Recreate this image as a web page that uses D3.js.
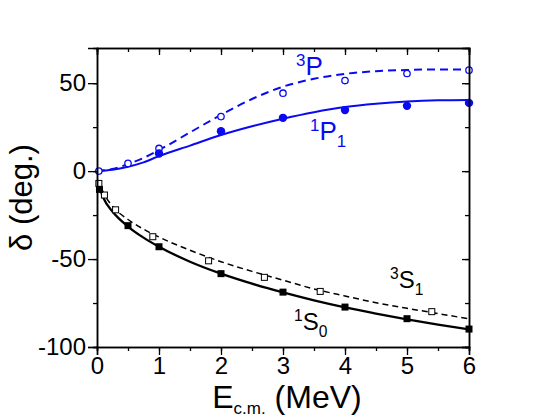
<!DOCTYPE html>
<html>
<head>
<meta charset="UTF-8">
<script src="https://cdn.jsdelivr.net/npm/d3@7"></script>
<style>
  body { margin:0; background:#fff; }
  svg text { font-family: "Liberation Sans", Arial, sans-serif; }
</style>
</head>
<body>
<div id="chart"></div>
<script>
// phase shifts
var pCurveE  = [0, 0.25, 0.5, 0.75, 1, 1.5, 2, 2.5, 3, 3.5, 4, 4.5, 5, 5.5, 6];
var p3Curve  = [0, 1.2, 4, 7.5, 12, 22, 32, 41, 48, 52.5, 55.3, 56.8, 57.5, 57.8, 57.8];
var p1Curve  = [0, 0.8, 2.5, 5, 8.5, 14.5, 20.5, 25.5, 29.8, 33.5, 36.4, 38.3, 39.6, 40.3, 40.5];

var sCurveE  = [0.02, 0.1, 0.25, 0.5, 0.75, 1, 1.5, 2, 2.5, 3, 3.5, 4, 4.5, 5, 5.5, 6];
var s1Curve  = [-7, -15, -23, -31.5, -37.8, -43, -51.5, -58.3, -64, -69, -73.5, -77.5, -81, -84.3, -87.3, -90];
var s3Curve  = [-5, -12, -20, -27.5, -33, -37.5, -45, -51.5, -57, -62, -67, -71, -74.8, -78, -81, -84];

var p3PtsE   = [0.03, 0.5, 1, 2, 3, 4, 5, 6];
var p3Pts    = [0, 4.4, 12.9, 31, 44.3, 51.5, 55.5, 57.4];
var p1PtsE   = [1, 2, 3, 4, 5, 6];
var p1Pts    = [10, 22.7, 30.3, 34.7, 37.1, 38.8];

var s3PtsE   = [0.03, 0.12, 0.3, 0.9, 1.8, 2.7, 3.6, 5.4];
var s3Pts    = [-7, -13.6, -22, -37.3, -51, -60.4, -68.4, -79.9];
var s1PtsE   = [0.04, 0.5, 1, 2, 3, 4, 5, 6];
var s1Pts    = [-10.4, -31, -43, -58.3, -68.8, -77.3, -83.9, -89.8];

var xTicks = [0, 1, 2, 3, 4, 5, 6];
var yTicks = [-100, -50, 0, 50];

var W = 545, H = 417;
var m = {left: 97, right: 76, top: 48, bottom: 70};
var blue = "#0a0af2";

var svg = d3.select("#chart").append("svg").attr("width", W).attr("height", H);

var x = d3.scaleLinear().domain([0, 6]).range([m.left, W - m.right]);
var y = d3.scaleLinear().domain([-100, 70]).range([H - m.bottom, m.top]);

function zip(a, b) { return a.map(function(v, i) { return [v, b[i]]; }); }

var line = d3.line().x(function(d){ return x(d[0]); }).y(function(d){ return y(d[1]); })
  .curve(d3.curveMonotoneX);

var plot = svg.append("g");

// curves
plot.append("path").datum(zip(pCurveE, p3Curve)).attr("d", line)
  .attr("fill", "none").attr("stroke", blue).attr("stroke-width", 2).attr("stroke-dasharray", "8,5");
plot.append("path").datum(zip(pCurveE, p1Curve)).attr("d", line)
  .attr("fill", "none").attr("stroke", blue).attr("stroke-width", 2);
plot.append("path").datum(zip(sCurveE, s3Curve)).attr("d", line)
  .attr("fill", "none").attr("stroke", "#000").attr("stroke-width", 1.5).attr("stroke-dasharray", "6,4");
plot.append("path").datum(zip(sCurveE, s1Curve)).attr("d", line)
  .attr("fill", "none").attr("stroke", "#000").attr("stroke-width", 2.3);

// markers
plot.selectAll(".p3").data(zip(p3PtsE, p3Pts)).enter().append("circle")
  .attr("cx", function(d){ return x(d[0]); }).attr("cy", function(d){ return y(d[1]); })
  .attr("r", 3.2).attr("fill", "#fff").attr("stroke", blue).attr("stroke-width", 1.3);
plot.selectAll(".p1").data(zip(p1PtsE, p1Pts)).enter().append("circle")
  .attr("cx", function(d){ return x(d[0]); }).attr("cy", function(d){ return y(d[1]); })
  .attr("r", 4.2).attr("fill", blue);
plot.selectAll(".s3").data(zip(s3PtsE, s3Pts)).enter().append("rect")
  .attr("x", function(d){ return x(d[0]) - 3; }).attr("y", function(d){ return y(d[1]) - 3; })
  .attr("width", 6).attr("height", 6).attr("fill", "#fff").attr("stroke", "#000").attr("stroke-width", 1);
plot.selectAll(".s1").data(zip(s1PtsE, s1Pts)).enter().append("rect")
  .attr("x", function(d){ return x(d[0]) - 3.5; }).attr("y", function(d){ return y(d[1]) - 3.5; })
  .attr("width", 7).attr("height", 7).attr("fill", "#000");

// axes
function styleAxis(g) {
  g.select(".domain").attr("stroke-width", 1.5);
  g.selectAll(".tick line").attr("stroke-width", 1.3);
  g.selectAll(".tick text").attr("font-size", 24).attr("fill", "#000")
    .attr("font-family", "Liberation Sans, Arial, sans-serif");
}
var xMinor = d3.range(0, 6.01, 0.5);
var yMinor = d3.range(-100, 70.1, 25);
var plain = function(d) { return String(d); };

// bottom
svg.append("g").attr("transform", "translate(0," + y(-100) + ")")
  .call(d3.axisBottom(x).tickValues(xMinor).tickSize(4).tickFormat(""))
  .call(styleAxis);
svg.append("g").attr("transform", "translate(0," + y(-100) + ")")
  .call(d3.axisBottom(x).tickValues(xTicks).tickSize(8).tickPadding(2).tickFormat(plain))
  .call(styleAxis);
// top
svg.append("g").attr("transform", "translate(0," + y(70) + ")")
  .call(d3.axisBottom(x).tickValues(xMinor).tickSize(4).tickFormat(""))
  .call(styleAxis);
svg.append("g").attr("transform", "translate(0," + y(70) + ")")
  .call(d3.axisBottom(x).tickValues(xTicks).tickSize(7).tickFormat(""))
  .call(styleAxis);
// left
svg.append("g").attr("transform", "translate(" + x(0) + ",0)")
  .call(d3.axisLeft(y).tickValues(yMinor).tickSize(4).tickFormat(""))
  .call(styleAxis);
svg.append("g").attr("transform", "translate(" + x(0) + ",0)")
  .call(d3.axisLeft(y).tickValues(yTicks).tickSize(9).tickPadding(2).tickFormat(plain))
  .call(styleAxis);
// right
svg.append("g").attr("transform", "translate(" + x(6) + ",0)")
  .call(d3.axisLeft(y).tickValues(yMinor).tickSize(4).tickFormat(""))
  .call(styleAxis);
svg.append("g").attr("transform", "translate(" + x(6) + ",0)")
  .call(d3.axisLeft(y).tickValues(yTicks).tickSize(7).tickFormat(""))
  .call(styleAxis);

// axis titles
svg.append("text")
  .attr("transform", "translate(32," + ((y(-100) + y(70)) / 2) + ") rotate(-90)")
  .attr("text-anchor", "middle").attr("font-size", 31).text("δ (deg.)");

var xt = svg.append("text").attr("x", (x(0) + x(6)) / 2 + 4).attr("y", 408)
  .attr("text-anchor", "middle").attr("font-size", 32);
xt.append("tspan").text("E");
xt.append("tspan").attr("font-size", 17).attr("dy", 6).text("c.m.");
xt.append("tspan").attr("dy", -6).text(" (MeV)");

// curve labels
function waveLabel(px, py, sup, main, sub, fs, col) {
  var t = svg.append("text").attr("x", px).attr("y", py).attr("font-size", fs).attr("fill", col);
  t.append("tspan").attr("font-size", fs * 0.65).attr("dy", -fs * 0.36).text(sup);
  t.append("tspan").attr("dy", fs * 0.36).text(main);
  if (sub) t.append("tspan").attr("font-size", fs * 0.65).attr("dy", fs * 0.28).text(sub);
}
waveLabel(296, 75, "3", "P", null, 26, blue);
waveLabel(310, 140, "1", "P", "1", 26, blue);
waveLabel(390, 288, "3", "S", "1", 24, "#000");
waveLabel(294, 330, "1", "S", "0", 24, "#000");
</script>
</body>
</html>
